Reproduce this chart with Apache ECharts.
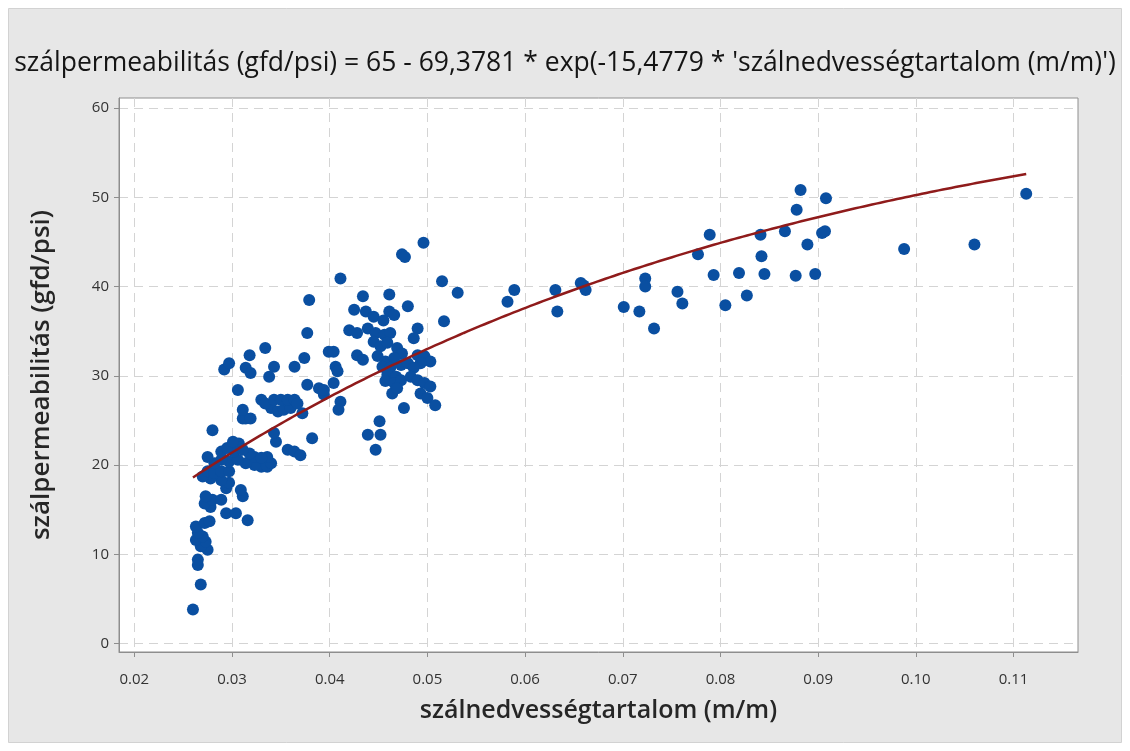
<!DOCTYPE html>
<html>
<head>
<meta charset="utf-8">
<script src="https://cdn.jsdelivr.net/npm/echarts@6/dist/echarts.min.js"></script>
<style>
  html, body { margin: 0; padding: 0; background: #ffffff; }
  #chart { width: 1130px; height: 751px; }
</style>
</head>
<body>
<div id="chart"></div>
<script>
// Fiber moisture content (m/m) per sample
const moisture = [
  0.0260, 0.0268, 0.0265, 0.0265, 0.0275, 0.0268, 0.0273, 0.0263, 0.0270, 0.0265,
  0.0263, 0.0272, 0.0277, 0.0316, 0.0294, 0.0304, 0.0278, 0.0272, 0.0280, 0.0289,
  0.0273, 0.0311, 0.0309, 0.0294, 0.0297, 0.0289, 0.0278, 0.0270, 0.0275, 0.0282,
  0.0289, 0.0297, 0.0330, 0.0336, 0.0323, 0.0282, 0.0314, 0.0340, 0.0297, 0.0289,
  0.0306, 0.0275, 0.0323, 0.0336, 0.0330, 0.0318, 0.0289, 0.0302, 0.0311, 0.0295,
  0.0307, 0.0301, 0.0357, 0.0364, 0.0370, 0.0345, 0.0382, 0.0343, 0.0280, 0.0311,
  0.0314, 0.0319, 0.0311, 0.0340, 0.0347, 0.0353, 0.0360, 0.0372, 0.0330, 0.0334,
  0.0343, 0.0350, 0.0357, 0.0364, 0.0367, 0.0394, 0.0389, 0.0377, 0.0306, 0.0338,
  0.0292, 0.0297, 0.0314, 0.0319, 0.0343, 0.0364, 0.0374, 0.0318, 0.0334, 0.0399,
  0.0377, 0.0379,
  0.0496, 0.0474, 0.0477, 0.0411, 0.0515, 0.0531, 0.0434, 0.0461, 0.0480, 0.0425,
  0.0437, 0.0445, 0.0461, 0.0466, 0.0517, 0.0490, 0.0486, 0.0420, 0.0428, 0.0439,
  0.0447, 0.0456, 0.0462, 0.0445, 0.0452, 0.0459, 0.0469, 0.0474, 0.0404, 0.0428,
  0.0434, 0.0449, 0.0457, 0.0466, 0.0454, 0.0462, 0.0473, 0.0480, 0.0490, 0.0497,
  0.0503, 0.0493, 0.0486, 0.0459, 0.0468, 0.0457, 0.0466, 0.0473, 0.0483, 0.0490,
  0.0497, 0.0503, 0.0406, 0.0408, 0.0404, 0.0394, 0.0411, 0.0409, 0.0464, 0.0469,
  0.0493, 0.0500, 0.0508, 0.0476, 0.0451, 0.0439, 0.0452, 0.0447, 0.0455,
  0.0582, 0.0589, 0.0631, 0.0633, 0.0657, 0.0662, 0.0660, 0.0701, 0.0717, 0.0723,
  0.0723, 0.0732, 0.0756, 0.0761, 0.0777, 0.0789, 0.0793, 0.0805, 0.0819, 0.0827,
  0.0841, 0.0842, 0.0845, 0.0866, 0.0877, 0.0878, 0.0882, 0.0889, 0.0897, 0.0904,
  0.0907, 0.0908, 0.0988, 0.1060, 0.1113
];

// Fiber permeability (gfd/psi) per sample
const permeability = [
  3.8, 6.6, 8.8, 9.4, 10.5, 10.9, 11.4, 11.6, 12.0, 12.4,
  13.1, 13.5, 13.7, 13.8, 14.6, 14.6, 15.3, 15.7, 16.1, 16.1,
  16.5, 16.5, 17.2, 17.4, 18.0, 18.3, 18.5, 18.7, 19.3, 19.1,
  19.3, 19.3, 19.8, 19.8, 20.0, 20.2, 20.2, 20.2, 20.4, 20.6,
  20.6, 20.9, 20.9, 20.9, 20.8, 21.3, 21.5, 21.5, 21.7, 21.9,
  22.4, 22.6, 21.7, 21.5, 21.1, 22.6, 23.0, 23.6, 23.9, 25.2,
  25.2, 25.2, 26.2, 26.4, 26.0, 26.2, 26.4, 25.8, 27.3, 26.9,
  27.3, 27.3, 27.3, 27.3, 26.9, 27.9, 28.6, 29.0, 28.4, 29.9,
  30.7, 31.4, 30.9, 30.3, 31.0, 31.0, 32.0, 32.3, 33.1, 32.7,
  34.8, 38.5,
  44.9, 43.6, 43.3, 40.9, 40.6, 39.3, 38.9, 39.1, 37.8, 37.4,
  37.2, 36.6, 37.2, 36.8, 36.1, 35.3, 34.2, 35.1, 34.8, 35.3,
  34.8, 34.6, 34.8, 33.8, 33.3, 33.7, 33.1, 32.5, 32.7, 32.3,
  31.8, 32.2, 31.6, 32.0, 31.0, 30.9, 31.2, 31.4, 32.3, 32.2,
  31.6, 31.4, 30.9, 30.1, 29.9, 29.4, 29.2, 29.5, 29.9, 29.5,
  29.2, 28.8, 31.0, 30.5, 29.2, 28.4, 27.1, 26.2, 28.0, 28.6,
  28.0, 27.5, 26.7, 26.4, 24.9, 23.4, 23.4, 21.7, 36.2,
  38.3, 39.6, 39.6, 37.2, 40.4, 39.6, 40.1, 37.7, 37.2, 40.9,
  40.0, 35.3, 39.4, 38.1, 43.6, 45.8, 41.3, 37.9, 41.5, 39.0,
  45.8, 43.4, 41.4, 46.2, 41.2, 48.6, 50.8, 44.7, 41.4, 46.0,
  46.2, 49.9, 44.2, 44.7, 50.4
];

// Axis tick positions and their labels
const xTickValues = [0.02, 0.03, 0.04, 0.05, 0.06, 0.07, 0.08, 0.09, 0.10, 0.11];
const xTickLabels = ['0.02', '0.03', '0.04', '0.05', '0.06', '0.07', '0.08', '0.09', '0.10', '0.11'];
const yTickValues = [0, 10, 20, 30, 40, 50, 60];

// Fitted model: y = A - B * exp(C * x)
const fitA = 65;
const fitB = 69.3781;
const fitC = -15.4779;

const titleText = "szálpermeabilitás (gfd/psi) = 65 - 69,3781 * exp(-15,4779 * 'szálnedvességtartalom (m/m)')";

const points = moisture.map((x, i) => [x, permeability[i]]);

// Fitted curve sampled across the observed moisture range
const xMin = Math.min(...moisture);
const xMax = Math.max(...moisture);
const fitCurve = [];
const steps = 200;
for (let i = 0; i <= steps; i++) {
  const x = xMin + (xMax - xMin) * i / steps;
  fitCurve.push([x, fitA - fitB * Math.exp(fitC * x)]);
}

const font = '"Open Sans", "Noto Sans", sans-serif';

const chart = echarts.init(document.getElementById('chart'), null, { renderer: 'canvas' });
chart.setOption({
  animation: false,
  backgroundColor: '#ffffff',
  graphic: [{
    type: 'rect',
    z: -10,
    silent: true,
    shape: { x: 8.5, y: 8.5, width: 1113, height: 734 },
    style: { fill: '#e7e7e7', stroke: '#d2d2d2', lineWidth: 1 }
  }],
  title: {
    text: titleText,
    left: 'center',
    top: 45,
    textStyle: { fontFamily: font, fontSize: 26.5, fontWeight: 'normal', color: '#151515' }
  },
  grid: {
    left: 119, right: 52, top: 98, bottom: 99,
    show: true,
    backgroundColor: '#ffffff',
    borderColor: '#8e8e8e',
    borderWidth: 1
  },
  xAxis: {
    type: 'value',
    min: 0.01843,
    max: 0.1166,
    name: 'szálnedvességtartalom (m/m)',
    nameLocation: 'middle',
    nameGap: 46,
    nameTextStyle: { fontFamily: font, fontSize: 25, fontWeight: 600, color: '#262626' },
    axisLine: { show: true, onZero: false, lineStyle: { color: '#8e8e8e', width: 1 } },
    axisTick: { show: true, inside: false, length: 5, customValues: xTickValues, lineStyle: { color: '#8e8e8e' } },
    axisLabel: {
      customValues: xTickValues,
      margin: 20,
      fontFamily: font, fontSize: 15, color: '#333333',
      formatter: v => xTickLabels[xTickValues.findIndex(t => Math.abs(t - v) < 1e-9)] ?? ''
    },
    splitLine: { show: true, lineStyle: { color: '#d4d4d4', type: [9, 6], width: 1 } }
  },
  yAxis: {
    type: 'value',
    min: -0.95,
    max: 61.12,
    name: 'szálpermeabilitás (gfd/psi)',
    nameLocation: 'middle',
    nameGap: 64,
    nameTextStyle: { fontFamily: font, fontSize: 26, fontWeight: 600, color: '#262626' },
    axisLine: { show: true, onZero: false, lineStyle: { color: '#8e8e8e', width: 1 } },
    axisTick: { show: true, inside: false, length: 5, customValues: yTickValues, lineStyle: { color: '#8e8e8e' } },
    axisLabel: {
      customValues: yTickValues,
      margin: 10,
      fontFamily: font, fontSize: 15, color: '#333333',
      formatter: v => String(Math.round(v))
    },
    splitLine: { show: true, lineStyle: { color: '#d4d4d4', type: [9, 6], width: 1 } }
  },
  series: [
    {
      type: 'scatter',
      data: points,
      symbol: 'circle',
      symbolSize: 12,
      itemStyle: { color: '#0a4fa1', opacity: 1 },
      z: 2
    },
    {
      type: 'line',
      data: fitCurve,
      showSymbol: false,
      smooth: false,
      lineStyle: { color: '#8f1b1b', width: 2.5 },
      z: 3
    }
  ]
});
</script>
</body>
</html>
